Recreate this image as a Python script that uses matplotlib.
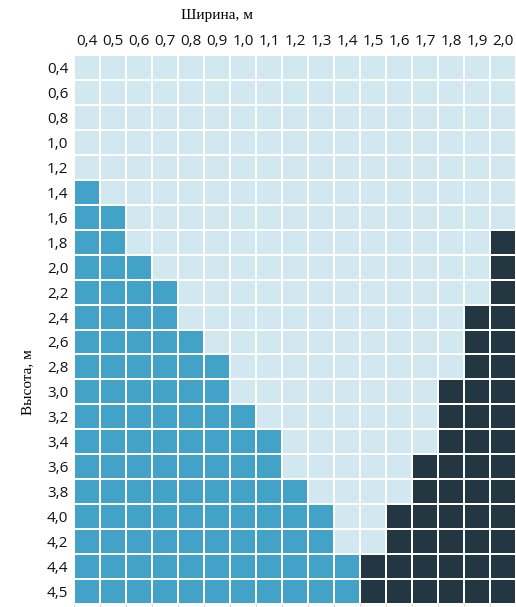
import matplotlib
matplotlib.use("Agg")
import matplotlib.pyplot as plt
import numpy as np
from matplotlib.colors import ListedColormap

widths = ["0,4", "0,5", "0,6", "0,7", "0,8", "0,9", "1,0", "1,1", "1,2",
          "1,3", "1,4", "1,5", "1,6", "1,7", "1,8", "1,9", "2,0"]
heights = ["0,4", "0,6", "0,8", "1,0", "1,2", "1,4", "1,6", "1,8", "2,0",
           "2,2", "2,4", "2,6", "2,8", "3,0", "3,2", "3,4", "3,6", "3,8",
           "4,0", "4,2", "4,4", "4,5"]
# per height row: how many cells from the left are class 1, from the right class 2
left_count = [0, 0, 0, 0, 0, 1, 2, 2, 3, 4, 4, 5, 6, 6, 7, 8, 8, 9, 10, 10, 11, 11]
right_count = [0, 0, 0, 0, 0, 0, 0, 1, 1, 1, 2, 2, 2, 3, 3, 3, 4, 4, 5, 5, 6, 6]

colors = ["#d2e8f0", "#42a2c7", "#233742"]

M = np.zeros((len(heights), len(widths)), dtype=int)
for i, (l, r) in enumerate(zip(left_count, right_count)):
    M[i, :l] = 1
    if r:
        M[i, len(widths) - r:] = 2

W, H = 516, 607
fig = plt.figure(figsize=(W / 100, H / 100), dpi=100)
ax = fig.add_axes([74 / W, 1 - 604 / H, 442 / W, 549 / H])
ax.pcolormesh(np.arange(len(widths) + 1), np.arange(len(heights) + 1), M,
              cmap=ListedColormap(colors), vmin=-0.5, vmax=2.5,
              edgecolor="white", linewidth=1.3)
ax.set_xlim(0, len(widths))
ax.set_ylim(len(heights), 0)
for s in ax.spines.values():
    s.set_visible(False)

tick_font = dict(family="Open Sans", fontsize=11, color="#111111")
ax.xaxis.tick_top()
ax.set_xticks(np.arange(len(widths)) + 0.5)
ax.set_xticklabels(widths, **tick_font)
ax.set_yticks(np.arange(len(heights)) + 0.5)
ax.set_yticklabels(heights, **tick_font)
ax.tick_params(axis="both", which="major", length=0, pad=4)
# faint tick marks under the grid at the cell boundaries
ax.set_xticks(np.arange(len(widths) + 1), minor=True)
ax.tick_params(axis="x", which="minor", bottom=True, top=False,
               length=2, width=0.6, color="#cccccc")

fig.text(217 / W, 1 - 16 / H, "Ширина, м", family="Liberation Serif",
         fontsize=11, ha="center", va="center")
fig.text(28 / W, 1 - 382 / H, "Высота, м", family="Liberation Serif",
         fontsize=11, ha="center", va="center", rotation=90)

fig.savefig("out.png", dpi=100)
